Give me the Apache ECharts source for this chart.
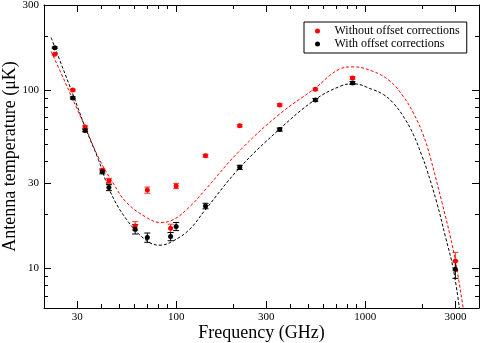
<!DOCTYPE html>
<html>
<head>
<meta charset="utf-8">
<script src="https://cdn.jsdelivr.net/npm/echarts@6/dist/echarts.min.js"></script>
<style>
  html, body { margin: 0; padding: 0; background: #fff; }
  #chart { width: 480px; height: 343px; }
</style>
</head>
<body>
<div id="chart"></div>
<script>
// measured points (GHz, μK)
var freq = [22.8, 28.4, 33.0, 40.7, 44.1, 60.7, 70.4, 93.5, 100, 143, 217, 353, 545, 857, 3000];
var tempRaw = [159, 100, 62, 35.5, 31, 17.3, 27.5, 16.8, 29, 42.9, 63.2, 82.6, 101, 117, 11];
var errRaw = [1.5, 1.2, 1.0, 0.9, 1.0, 1.0, 1.1, 0.9, 1.0, 0.8, 1.0, 1.2, 1.5, 2.0, 1.3];
var tempCorr = [173, 90.4, 59.4, 34.8, 28.4, 16.6, 14.9, 15.1, 17.2, 22.4, 36.9, 60.1, 88, 109.6, 9.9];
var errCorr = [1.5, 1.2, 1.0, 0.9, 1.1, 1.0, 0.9, 0.8, 0.9, 0.8, 1.0, 1.2, 1.5, 2.0, 1.1];

// fitted model curves
var fitRawFreq = [21.8, 25, 28.4, 33, 39.3, 46.4, 54.7, 69.8, 82.2, 96.9, 118, 142, 216, 350, 540, 734, 862, 1100, 1358, 1590, 1798, 2038, 2210, 2548, 2816, 3012, 3300];
var fitRaw = [165, 120, 88.7, 62.2, 40.8, 30.1, 23.4, 19.3, 18.1, 18.8, 22.2, 27.5, 45.5, 72.9, 102, 131.3, 134.9, 127.4, 111.9, 92.1, 74.5, 55.3, 42, 23.4, 15.2, 10.8, 6.0];
var fitCorrFreq = [21.8, 25, 28.4, 33, 38.8, 44.7, 54.7, 69.8, 82.2, 96.9, 118, 142, 216, 350, 540, 734, 862, 1100, 1252, 1406, 1590, 1798, 1998, 2118, 2392, 2652, 2926, 3148];
var fitCorr = [197, 135, 95, 62, 40.8, 27.1, 18.8, 14.3, 13.5, 14.3, 16.6, 21.2, 36.5, 60, 88, 104.9, 108.6, 100.5, 94.3, 84.7, 71.3, 56.4, 42.7, 35.9, 23.4, 15.2, 9.9, 6.0];

// ticks
var xMajor = [30, 100, 300, 1000, 3000];
var xMinor = [40, 50, 60, 70, 80, 90, 200, 400, 500, 600, 700, 800, 900, 2000];
var yMajor = [10, 30, 100, 300];
var yMinor = [7, 8, 9, 20, 40, 50, 60, 70, 80, 90, 200];

var lg = Math.log10;
var FONT = 'Liberation Serif';
var xMin = lg(20), xMax = lg(4000), yMin = lg(6), yMax = lg(300);

function pts(xs, ys) {
  return xs.map(function (f, i) { return [lg(f), lg(ys[i])]; });
}
function bars(xs, ys, es) {
  return xs.map(function (f, i) { return [lg(f), lg(ys[i] - es[i]), lg(ys[i] + es[i])]; });
}

function tickAxis(pos, ticks, len, main) {
  var isX = pos === 'bottom' || pos === 'top';
  return {
    type: 'value',
    position: pos,
    min: isX ? xMin : yMin,
    max: isX ? xMax : yMax,
    splitLine: { show: false },
    axisLine: { show: main, onZero: false, lineStyle: { color: '#000', width: 1 } },
    axisTick: {
      show: true, inside: true, length: len,
      customValues: ticks.map(lg),
      lineStyle: { color: '#000', width: 1 }
    },
    axisLabel: { show: false }
  };
}

function errorBars(color) {
  return function (params, api) {
    var x = api.value(0);
    var lo = api.coord([x, api.value(1)]);
    var hi = api.coord([x, api.value(2)]);
    var w = 3;
    var st = { stroke: color, lineWidth: 1 };
    return {
      type: 'group',
      children: [
        { type: 'line', shape: { x1: lo[0], y1: lo[1], x2: hi[0], y2: hi[1] }, style: st },
        { type: 'line', shape: { x1: hi[0] - w, y1: hi[1], x2: hi[0] + w, y2: hi[1] }, style: st },
        { type: 'line', shape: { x1: lo[0] - w, y1: lo[1], x2: lo[0] + w, y2: lo[1] }, style: st }
      ]
    };
  };
}

var chart = echarts.init(document.getElementById('chart'), null, { renderer: 'canvas' });

var xBottom = tickAxis('bottom', xMajor, 7, true);
xBottom.axisLabel = {
  show: true, margin: 4, fontFamily: FONT, fontSize: 11, color: '#000',
  customValues: xMajor.map(lg),
  formatter: function (v) { return String(Math.round(Math.pow(10, v))); }
};
xBottom.name = 'Frequency (GHz)';
xBottom.nameLocation = 'middle';
xBottom.nameGap = 16;
xBottom.nameMoveOverlap = false;
xBottom.nameTextStyle = { fontFamily: FONT, fontSize: 18, color: '#000' };

var yLeft = tickAxis('left', yMajor, 7, true);
yLeft.axisLabel = {
  show: true, margin: 5, fontFamily: FONT, fontSize: 11, color: '#000',
  customValues: yMajor.map(lg),
  formatter: function (v) { return String(Math.round(Math.pow(10, v))); }
};
yLeft.name = 'Antenna temperature (μK)';
yLeft.nameLocation = 'middle';
yLeft.nameGap = 25;
yLeft.nameMoveOverlap = false;
yLeft.nameTextStyle = { fontFamily: FONT, fontSize: 18, color: '#000' };

var option = {
  animation: false,
  backgroundColor: '#fff',
  grid: { left: 44, right: 1, top: 5, bottom: 35, containLabel: false, outerBoundsMode: 'none' },
  xAxis: [
    xBottom,
    tickAxis('bottom', xMinor, 4, false),
    tickAxis('top', xMajor, 7, true),
    tickAxis('top', xMinor, 4, false)
  ],
  yAxis: [
    yLeft,
    tickAxis('left', yMinor, 4, false),
    tickAxis('right', yMajor, 7, true),
    tickAxis('right', yMinor, 4, false)
  ],
  legend: {
    orient: 'vertical',
    left: 304,
    top: 22,
    padding: [3, 7, 3, 11],
    itemGap: 1,
    itemWidth: 24,
    itemHeight: 5,
    borderColor: '#000',
    borderWidth: 1,
    textStyle: { fontFamily: FONT, fontSize: 12, color: '#000', lineHeight: 12 },
    data: ['Without offset corrections', 'With offset corrections']
  },
  series: [
    {
      name: 'fit raw', type: 'line', data: pts(fitRawFreq, fitRaw),
      smooth: 0.4, showSymbol: false, z: 2,
      lineStyle: { color: '#ff0000', width: 1, type: [3, 2] }
    },
    {
      name: 'fit corr', type: 'line', data: pts(fitCorrFreq, fitCorr),
      smooth: 0.4, showSymbol: false, z: 2,
      lineStyle: { color: '#000', width: 1, type: [3, 2] }
    },
    {
      name: 'err raw', type: 'custom', data: bars(freq, tempRaw, errRaw),
      renderItem: errorBars('#ff3030'), z: 3, encode: { x: 0, y: [1, 2] }
    },
    {
      name: 'err corr', type: 'custom', data: bars(freq, tempCorr, errCorr),
      renderItem: errorBars('#000'), z: 3, encode: { x: 0, y: [1, 2] }
    },
    {
      name: 'Without offset corrections', type: 'scatter', data: pts(freq, tempRaw),
      symbol: 'circle', symbolSize: 5, z: 4,
      itemStyle: { color: '#ff0000', opacity: 1 }
    },
    {
      name: 'With offset corrections', type: 'scatter', data: pts(freq, tempCorr),
      symbol: 'circle', symbolSize: 5, z: 4,
      itemStyle: { color: '#000', opacity: 1 }
    }
  ]
};

chart.setOption(option);
</script>
</body>
</html>
